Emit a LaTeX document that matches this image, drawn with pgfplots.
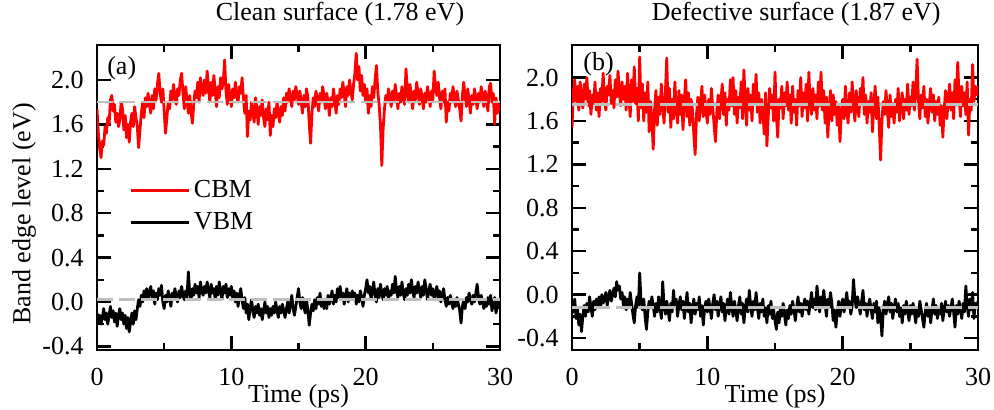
\documentclass[border=0pt]{standalone}
\usepackage{fontspec}
\setmainfont{Liberation Serif}
\usepackage{pgfplots}
\usepackage{pgfplotstable}
\pgfplotsset{compat=1.18}

\newcommand\chartfont{\fontsize{13}{15.6}\selectfont}

% band edges vs time, clean surface: t (ps), CBM, VBM (eV)
\pgfplotstableread[row sep=\\]{
t cbm vbm\\
0.0 1.74 -0.10\\ 0.1 1.52 -0.18\\ 0.2 1.38 -0.12\\ 0.3 1.30 -0.20\\ 0.4 1.45 -0.14\\ 0.5 1.41 -0.06\\ 0.6 1.58 -0.16\\ 0.7 1.52 -0.10\\ 0.8 1.66 -0.20\\ 0.9 1.60 -0.12\\
1.0 1.82 -0.04\\ 1.1 1.86 -0.14\\ 1.2 1.72 -0.08\\ 1.3 1.78 -0.18\\ 1.4 1.62 -0.10\\ 1.5 1.70 -0.22\\ 1.6 1.58 -0.12\\ 1.7 1.64 -0.06\\ 1.8 1.80 -0.16\\ 1.9 1.74 -0.10\\
2.0 1.55 -0.20\\ 2.1 1.68 -0.12\\ 2.2 1.48 -0.24\\ 2.3 1.60 -0.14\\ 2.4 1.44 -0.27\\ 2.5 1.62 -0.18\\ 2.6 1.70 -0.10\\ 2.7 1.58 -0.20\\ 2.8 1.76 -0.08\\ 2.9 1.66 -0.16\\
3.0 1.58 -0.06\\ 3.1 1.39 0.02\\ 3.2 1.55 -0.04\\ 3.3 1.70 0.06\\ 3.4 1.80 0.00\\ 3.5 1.66 0.10\\ 3.6 1.84 0.04\\ 3.7 1.76 0.12\\ 3.8 1.88 0.02\\ 3.9 1.78 0.08\\
4.0 1.70 0.14\\ 4.1 1.86 0.04\\ 4.2 1.74 0.10\\ 4.3 1.92 -0.02\\ 4.4 1.82 0.08\\ 4.5 1.96 0.02\\ 4.6 2.06 0.12\\ 4.7 1.88 0.06\\ 4.8 1.80 0.15\\ 4.9 1.92 0.00\\
5.0 1.72 -0.06\\ 5.1 1.52 0.06\\ 5.2 1.66 0.00\\ 5.3 1.80 0.10\\ 5.4 1.74 0.04\\ 5.5 1.90 -0.04\\ 5.6 1.82 0.08\\ 5.7 1.96 0.02\\ 5.8 1.84 0.12\\ 5.9 1.78 0.04\\
6.0 1.92 0.00\\ 6.1 1.86 0.10\\ 6.2 2.00 0.04\\ 6.3 2.06 0.14\\ 6.4 1.88 0.06\\ 6.5 1.74 0.02\\ 6.6 1.94 0.10\\ 6.7 1.82 0.04\\ 6.8 1.70 0.27\\ 6.9 1.86 0.08\\
7.0 1.72 0.02\\ 7.1 1.61 0.12\\ 7.2 1.78 0.06\\ 7.3 1.90 0.16\\ 7.4 1.84 0.08\\ 7.5 1.98 0.14\\ 7.6 1.80 0.04\\ 7.7 2.02 0.18\\ 7.8 1.92 0.10\\ 7.9 1.86 0.06\\
8.0 2.00 0.14\\ 8.1 1.88 0.08\\ 8.2 2.08 0.18\\ 8.3 1.94 0.10\\ 8.4 1.80 0.04\\ 8.5 1.98 0.16\\ 8.6 1.86 0.08\\ 8.7 2.04 0.12\\ 8.8 1.90 0.02\\ 8.9 1.76 0.14\\
9.0 1.94 0.06\\ 9.1 1.84 0.18\\ 9.2 2.02 0.10\\ 9.3 1.92 0.02\\ 9.4 1.98 0.14\\ 9.5 2.18 0.08\\ 9.6 1.90 0.16\\ 9.7 1.78 0.04\\ 9.8 1.96 0.12\\ 9.9 1.84 0.06\\
10.0 1.76 0.14\\ 10.1 1.92 0.04\\ 10.2 1.84 0.10\\ 10.3 1.98 0.00\\ 10.4 1.86 0.08\\ 10.5 1.80 -0.04\\ 10.6 1.94 0.06\\ 10.7 1.88 0.12\\ 10.8 2.02 0.02\\ 10.9 1.84 -0.06\\
11.0 1.70 0.04\\ 11.1 1.86 -0.10\\ 11.2 1.49 -0.02\\ 11.3 1.72 -0.16\\ 11.4 1.64 -0.06\\ 11.5 1.80 0.02\\ 11.6 1.70 -0.08\\ 11.7 1.62 -0.14\\ 11.8 1.84 -0.04\\ 11.9 1.74 -0.10\\
12.0 1.60 -0.02\\ 12.1 1.76 -0.12\\ 12.2 1.68 -0.06\\ 12.3 1.82 -0.16\\ 12.4 1.66 -0.08\\ 12.5 1.58 0.00\\ 12.6 1.74 -0.10\\ 12.7 1.64 -0.04\\ 12.8 1.80 -0.14\\ 12.9 1.50 -0.06\\
13.0 1.68 -0.12\\ 13.1 1.58 -0.04\\ 13.2 1.74 -0.10\\ 13.3 1.66 0.00\\ 13.4 1.80 -0.08\\ 13.5 1.70 -0.14\\ 13.6 1.62 -0.04\\ 13.7 1.76 -0.10\\ 13.8 1.68 -0.02\\ 13.9 1.84 -0.08\\
14.0 1.72 -0.14\\ 14.1 1.88 -0.06\\ 14.2 1.80 0.00\\ 14.3 1.92 -0.10\\ 14.4 1.84 -0.02\\ 14.5 1.76 0.06\\ 14.6 1.90 -0.06\\ 14.7 1.82 -0.12\\ 14.8 1.94 -0.04\\ 14.9 1.86 0.04\\
15.0 1.78 0.12\\ 15.1 1.90 0.00\\ 15.2 1.80 -0.06\\ 15.3 1.70 0.04\\ 15.4 1.86 -0.04\\ 15.5 1.76 -0.10\\ 15.6 1.92 0.02\\ 15.7 1.84 -0.08\\ 15.8 1.60 -0.21\\ 15.9 1.43 -0.10\\
16.0 1.70 -0.02\\ 16.1 1.84 -0.08\\ 16.2 1.76 0.02\\ 16.3 1.90 -0.06\\ 16.4 1.82 0.04\\ 16.5 1.72 -0.02\\ 16.6 1.88 0.08\\ 16.7 1.80 -0.04\\ 16.8 1.94 0.02\\ 16.9 1.86 -0.06\\
17.0 1.74 0.00\\ 17.1 1.88 -0.06\\ 17.2 1.80 0.06\\ 17.3 1.68 -0.02\\ 17.4 1.84 0.04\\ 17.5 1.76 0.10\\ 17.6 1.92 -0.02\\ 17.7 1.82 0.06\\ 17.8 1.70 0.00\\ 17.9 1.86 0.12\\
18.0 1.78 0.04\\ 18.1 1.92 0.14\\ 18.2 1.84 0.02\\ 18.3 1.98 0.08\\ 18.4 1.88 -0.02\\ 18.5 1.76 0.06\\ 18.6 1.94 0.12\\ 18.7 1.86 0.00\\ 18.8 2.00 0.08\\ 18.9 1.90 0.02\\
19.0 1.82 0.10\\ 19.1 1.96 0.02\\ 19.2 2.06 0.08\\ 19.3 2.24 -0.02\\ 19.4 2.00 0.06\\ 19.5 2.12 0.00\\ 19.6 1.90 0.10\\ 19.7 2.04 0.04\\ 19.8 1.86 -0.04\\ 19.9 1.96 0.06\\
20.0 1.80 0.12\\ 20.1 1.92 0.20\\ 20.2 1.70 0.08\\ 20.3 1.86 0.14\\ 20.4 1.76 0.02\\ 20.5 1.94 0.10\\ 20.6 1.84 0.18\\ 20.7 2.00 0.06\\ 20.8 2.13 0.00\\ 20.9 1.90 0.12\\
21.0 1.78 0.04\\ 21.1 1.60 0.16\\ 21.2 1.23 0.08\\ 21.3 1.56 0.02\\ 21.4 1.74 0.12\\ 21.5 1.86 0.06\\ 21.6 1.80 0.14\\ 21.7 1.92 0.02\\ 21.8 1.84 0.10\\ 21.9 1.76 0.06\\
22.0 1.90 0.16\\ 22.1 1.82 0.08\\ 22.2 1.96 0.23\\ 22.3 1.86 0.10\\ 22.4 1.74 0.04\\ 22.5 1.88 0.14\\ 22.6 1.80 0.06\\ 22.7 1.94 0.18\\ 22.8 1.84 0.08\\ 22.9 1.78 0.02\\
23.0 2.10 0.12\\ 23.1 1.92 0.06\\ 23.2 1.80 0.16\\ 23.3 1.96 0.08\\ 23.4 1.86 0.20\\ 23.5 1.74 0.10\\ 23.6 1.90 0.04\\ 23.7 1.82 0.14\\ 23.8 1.98 0.08\\ 23.9 1.88 0.18\\
24.0 1.78 0.10\\ 24.1 1.92 0.04\\ 24.2 1.84 0.14\\ 24.3 1.74 0.06\\ 24.4 1.88 0.20\\ 24.5 1.80 0.12\\ 24.6 1.94 0.02\\ 24.7 1.86 0.10\\ 24.8 1.76 0.16\\ 24.9 1.90 0.06\\
25.0 1.82 0.12\\ 25.1 2.08 0.02\\ 25.2 1.94 0.08\\ 25.3 1.86 0.14\\ 25.4 1.98 0.04\\ 25.5 1.84 0.10\\ 25.6 1.74 0.00\\ 25.7 1.90 0.06\\ 25.8 1.80 0.12\\ 25.9 1.92 0.02\\
26.0 1.62 -0.04\\ 26.1 1.80 0.04\\ 26.2 1.72 -0.02\\ 26.3 1.88 0.06\\ 26.4 1.80 0.00\\ 26.5 1.94 -0.06\\ 26.6 1.84 0.02\\ 26.7 1.76 -0.04\\ 26.8 1.90 0.04\\ 26.9 1.82 -0.02\\
27.0 1.74 -0.08\\ 27.1 1.63 -0.19\\ 27.2 1.86 -0.04\\ 27.3 1.98 0.02\\ 27.4 1.84 -0.06\\ 27.5 1.76 0.04\\ 27.6 1.92 0.00\\ 27.7 1.82 0.08\\ 27.8 1.70 0.02\\ 27.9 1.86 -0.02\\
28.0 1.78 0.06\\ 28.1 1.92 0.00\\ 28.2 1.84 0.08\\ 28.3 1.74 0.16\\ 28.4 1.88 0.04\\ 28.5 1.80 -0.02\\ 28.6 1.94 0.06\\ 28.7 1.84 0.00\\ 28.8 1.76 -0.06\\ 28.9 1.90 0.02\\
29.0 1.82 -0.04\\ 29.1 1.72 0.04\\ 29.2 1.94 -0.02\\ 29.3 1.97 0.06\\ 29.4 1.80 -0.08\\ 29.5 1.88 -0.02\\ 29.6 1.60 0.04\\ 29.7 1.84 -0.10\\ 29.8 1.70 -0.04\\ 29.9 1.78 0.00\\
30.0 1.72 -0.06\\
}\cleansurf

% defective surface
\pgfplotstableread[row sep=\\]{
t cbm vbm\\
0.0 1.54 -0.06\\ 0.1 1.86 -0.16\\ 0.2 1.98 -0.04\\ 0.3 1.78 -0.22\\ 0.4 1.92 -0.12\\ 0.5 1.70 -0.28\\ 0.6 1.96 -0.18\\ 0.7 1.82 -0.34\\ 0.8 1.72 -0.20\\ 0.9 1.94 -0.10\\
1.0 1.80 -0.20\\ 1.1 2.00 -0.08\\ 1.2 1.74 -0.16\\ 1.3 1.88 -0.02\\ 1.4 1.66 -0.12\\ 1.5 1.84 -0.20\\ 1.6 1.76 -0.06\\ 1.7 1.96 -0.14\\ 1.8 1.70 -0.04\\ 1.9 1.86 -0.10\\
2.0 1.64 -0.02\\ 2.1 1.90 -0.12\\ 2.2 1.78 0.00\\ 2.3 2.04 -0.08\\ 2.4 1.80 -0.04\\ 2.5 1.70 0.02\\ 2.6 1.92 -0.10\\ 2.7 1.84 -0.02\\ 2.8 2.02 0.04\\ 2.9 1.76 -0.06\\
3.0 1.88 0.00\\ 3.1 1.72 0.06\\ 3.2 1.98 -0.02\\ 3.3 1.82 0.12\\ 3.4 2.06 0.04\\ 3.5 1.86 0.08\\ 3.6 1.74 -0.04\\ 3.7 1.96 0.02\\ 3.8 1.80 -0.10\\ 3.9 1.92 -0.02\\
4.0 1.70 -0.14\\ 4.1 2.04 -0.04\\ 4.2 1.84 -0.12\\ 4.3 1.64 0.02\\ 4.4 1.98 -0.08\\ 4.5 1.78 -0.18\\ 4.6 2.10 -0.26\\ 4.7 1.76 -0.10\\ 4.8 1.90 -0.02\\ 4.9 1.60 -0.12\\
5.0 2.19 0.20\\ 5.1 1.72 -0.06\\ 5.2 1.94 -0.14\\ 5.3 1.60 -0.04\\ 5.4 1.86 -0.20\\ 5.5 1.68 -0.32\\ 5.6 1.96 -0.16\\ 5.7 1.50 -0.06\\ 5.8 1.78 -0.12\\ 5.9 1.62 -0.02\\
6.0 1.34 -0.10\\ 6.1 1.70 -0.20\\ 6.2 1.88 -0.08\\ 6.3 1.56 -0.16\\ 6.4 1.82 -0.02\\ 6.5 1.66 -0.12\\ 6.6 1.94 -0.22\\ 6.7 1.74 0.12\\ 6.8 1.58 -0.10\\ 6.9 1.86 -0.18\\
7.0 2.18 -0.06\\ 7.1 1.68 -0.14\\ 7.2 1.90 -0.24\\ 7.3 1.54 -0.08\\ 7.4 1.80 -0.16\\ 7.5 1.62 0.04\\ 7.6 1.96 -0.12\\ 7.7 1.72 -0.04\\ 7.8 1.58 -0.20\\ 7.9 1.88 -0.10\\
8.0 1.66 -0.02\\ 8.1 1.84 -0.14\\ 8.2 1.52 -0.06\\ 8.3 1.78 -0.22\\ 8.4 1.98 -0.10\\ 8.5 1.64 0.02\\ 8.6 1.86 -0.16\\ 8.7 1.56 -0.08\\ 8.8 1.80 -0.26\\ 8.9 1.70 -0.12\\
9.0 1.48 -0.04\\ 9.1 1.29 -0.18\\ 9.2 1.66 -0.08\\ 9.3 1.82 -0.14\\ 9.4 1.60 -0.02\\ 9.5 1.76 -0.20\\ 9.6 1.92 -0.10\\ 9.7 1.64 -0.28\\ 9.8 1.84 -0.12\\ 9.9 1.70 -0.06\\
10.0 1.58 -0.16\\ 10.1 1.80 -0.04\\ 10.2 1.66 -0.12\\ 10.3 1.90 -0.22\\ 10.4 1.72 -0.08\\ 10.5 1.56 0.00\\ 10.6 1.41 -0.14\\ 10.7 1.68 -0.06\\ 10.8 1.84 -0.20\\ 10.9 1.62 -0.10\\
11.0 1.78 -0.02\\ 11.1 1.94 -0.16\\ 11.2 1.66 -0.08\\ 11.3 1.86 -0.24\\ 11.4 1.56 -0.12\\ 11.5 1.80 -0.04\\ 11.6 1.70 -0.18\\ 11.7 1.98 0.02\\ 11.8 1.74 -0.10\\ 11.9 2.00 -0.20\\
12.0 1.66 -0.06\\ 12.1 1.88 -0.14\\ 12.2 1.58 -0.24\\ 12.3 1.82 -0.10\\ 12.4 1.72 -0.02\\ 12.5 1.96 -0.18\\ 12.6 1.62 -0.08\\ 12.7 2.07 -0.26\\ 12.8 1.78 -0.12\\ 12.9 1.56 -0.04\\
13.0 1.90 -0.16\\ 13.1 1.70 0.04\\ 13.2 1.84 -0.10\\ 13.3 1.60 -0.20\\ 13.4 1.94 -0.06\\ 13.5 1.76 -0.14\\ 13.6 2.03 0.02\\ 13.7 1.68 -0.12\\ 13.8 1.86 -0.22\\ 13.9 1.58 -0.08\\
14.0 1.80 -0.16\\ 14.1 1.70 -0.04\\ 14.2 1.48 -0.20\\ 14.3 1.86 -0.12\\ 14.4 1.37 -0.26\\ 14.5 1.64 -0.10\\ 14.6 1.90 -0.18\\ 14.7 1.72 -0.06\\ 14.8 1.84 -0.22\\ 14.9 1.60 -0.14\\
15.0 2.05 -0.24\\ 15.1 1.66 -0.32\\ 15.2 1.45 -0.16\\ 15.3 1.80 -0.26\\ 15.4 1.72 -0.12\\ 15.5 1.92 -0.20\\ 15.6 1.62 -0.08\\ 15.7 1.86 -0.18\\ 15.8 1.74 -0.28\\ 15.9 1.96 -0.14\\
16.0 1.70 -0.22\\ 16.1 1.84 -0.10\\ 16.2 1.58 -0.18\\ 16.3 1.92 -0.06\\ 16.4 1.68 -0.14\\ 16.5 1.80 -0.24\\ 16.6 1.56 -0.12\\ 16.7 1.88 -0.02\\ 16.8 1.74 -0.16\\ 16.9 2.00 -0.08\\
17.0 1.64 -0.20\\ 17.1 1.86 -0.10\\ 17.2 1.72 -0.04\\ 17.3 1.94 -0.14\\ 17.4 1.60 -0.06\\ 17.5 2.05 -0.18\\ 17.6 1.76 -0.08\\ 17.7 1.66 0.02\\ 17.8 1.90 -0.12\\ 17.9 1.70 -0.04\\
18.0 1.84 -0.14\\ 18.1 1.62 0.08\\ 18.2 1.96 -0.06\\ 18.3 1.74 -0.16\\ 18.4 2.05 -0.02\\ 18.5 1.70 -0.10\\ 18.6 1.88 0.04\\ 18.7 1.58 -0.08\\ 18.8 1.82 -0.20\\ 18.9 1.45 -0.04\\
19.0 1.72 -0.12\\ 19.1 1.88 0.02\\ 19.2 1.60 -0.08\\ 19.3 1.84 -0.24\\ 19.4 1.66 -0.14\\ 19.5 1.78 -0.30\\ 19.6 1.56 -0.16\\ 19.7 1.74 -0.06\\ 19.8 1.41 -0.20\\ 19.9 1.66 -0.10\\
20.0 1.80 -0.04\\ 20.1 1.62 -0.16\\ 20.2 1.92 -0.08\\ 20.3 1.70 0.02\\ 20.4 1.58 -0.12\\ 20.5 1.86 -0.06\\ 20.6 1.68 -0.18\\ 20.7 1.96 -0.10\\ 20.8 1.74 0.14\\ 20.9 1.60 -0.04\\
21.0 1.88 -0.12\\ 21.1 1.72 -0.02\\ 21.2 1.64 -0.10\\ 21.3 1.90 -0.18\\ 21.4 1.76 -0.06\\ 21.5 2.00 0.04\\ 21.6 1.66 -0.14\\ 21.7 1.84 -0.08\\ 21.8 1.58 -0.20\\ 21.9 1.78 -0.10\\
22.0 1.68 -0.04\\ 22.1 1.86 -0.14\\ 22.2 1.50 -0.22\\ 22.3 1.74 -0.08\\ 22.4 1.92 -0.16\\ 22.5 1.62 -0.06\\ 22.6 1.82 -0.26\\ 22.7 1.56 -0.12\\ 22.8 1.24 -0.20\\ 22.9 1.60 -0.38\\
23.0 1.78 -0.14\\ 23.1 1.66 -0.06\\ 23.2 1.88 -0.18\\ 23.3 1.70 -0.10\\ 23.4 1.54 -0.02\\ 23.5 1.84 -0.16\\ 23.6 1.64 -0.08\\ 23.7 1.76 -0.22\\ 23.8 1.58 -0.12\\ 23.9 1.80 -0.04\\
24.0 1.68 -0.16\\ 24.1 1.90 -0.08\\ 24.2 1.60 -0.20\\ 24.3 1.76 -0.12\\ 24.4 1.86 -0.26\\ 24.5 1.62 -0.10\\ 24.6 1.80 -0.18\\ 24.7 1.70 -0.06\\ 24.8 1.94 -0.14\\ 24.9 1.66 -0.24\\
25.0 1.82 -0.10\\ 25.1 1.74 -0.18\\ 25.2 1.96 -0.08\\ 25.3 1.70 -0.16\\ 25.4 1.88 -0.26\\ 25.5 2.17 -0.12\\ 25.6 1.78 -0.20\\ 25.7 1.62 -0.06\\ 25.8 1.84 -0.14\\ 25.9 1.72 -0.22\\
26.0 1.92 -0.30\\ 26.1 1.64 -0.16\\ 26.2 1.80 -0.08\\ 26.3 1.58 -0.20\\ 26.4 1.76 -0.12\\ 26.5 1.90 -0.26\\ 26.6 1.68 -0.14\\ 26.7 1.84 -0.04\\ 26.8 1.60 -0.18\\ 26.9 1.78 -0.10\\
27.0 1.66 -0.22\\ 27.1 1.82 -0.12\\ 27.2 1.56 -0.18\\ 27.3 1.74 -0.08\\ 27.4 1.45 -0.24\\ 27.5 1.70 -0.14\\ 27.6 1.88 -0.06\\ 27.7 1.62 -0.16\\ 27.8 1.80 -0.10\\ 27.9 1.94 -0.20\\
28.0 1.70 -0.12\\ 28.1 1.86 -0.04\\ 28.2 1.62 -0.16\\ 28.3 1.98 -0.30\\ 28.4 1.76 -0.10\\ 28.5 2.14 -0.18\\ 28.6 1.82 -0.06\\ 28.7 1.64 -0.14\\ 28.8 1.92 -0.22\\ 28.9 1.74 -0.08\\
29.0 1.86 -0.16\\ 29.1 1.66 0.08\\ 29.2 1.96 -0.10\\ 29.3 1.47 -0.20\\ 29.4 1.80 -0.04\\ 29.5 1.70 -0.14\\ 29.6 2.12 0.02\\ 29.7 1.78 -0.22\\ 29.8 1.92 -0.08\\ 29.9 1.84 -0.12\\
30.0 1.92 -0.06\\
}\defectsurf

\pgfplotsset{
  bandaxis/.style={
    scale only axis, height=152.5pt,
    xmin=0, xmax=30, xtick={0,10,20,30}, minor x tick num=1,
    ytick={-0.4,0,0.4,0.8,1.2,1.6,2.0}, minor y tick num=1,
    tick pos=both, tick align=inside,
    major tick length=7pt, minor tick length=3.5pt,
    every tick/.style={black, line width=1.2pt},
    axis line style={line width=1.2pt},
    tick label style={font=\chartfont},
    /pgf/number format/assume math mode=true,
    yticklabel style={/pgf/number format/.cd, fixed, fixed zerofill, precision=1, /tikz/.cd, xshift=-3.2pt},
    xticklabel style={yshift=-5.7pt},
    xlabel={Time (ps)},
    xlabel style={font=\chartfont, at={(axis description cs:0.5,0)}, anchor=north, inner sep=0pt, yshift=-17pt},
    title style={font=\chartfont, anchor=base, yshift=6.5pt},
    every axis plot/.append style={line width=1.4pt, line join=round},
  },
  meanline/.style={black!25, line width=1.3pt, dash pattern=on 8pt off 3pt, forget plot},
}

\begin{document}
\begin{tikzpicture}
\useasboundingbox (0,0) rectangle (497pt,204.5pt);

\begin{axis}[bandaxis, at={(48.5pt,29.5pt)}, anchor=south west, width=201.5pt,
    ymin=-0.433, ymax=2.315,
    title={Clean surface (1.78 eV)}, title style={at={(axis description cs:0.603,1)}},
    ylabel={Band edge level (eV)},
    ylabel style={font=\chartfont, at={(axis description cs:-0.181,0.446)}, anchor=center},
    legend style={draw=none, fill=none, font=\chartfont, at={(axis description cs:0.065,0.584)},
        anchor=north west, row sep=2pt, cells={anchor=west}},
    legend image code/.code={\draw[#1, line width=1.2pt] (0pt,0pt) -- (29pt,0pt);},
]
\addplot[red] table[x=t, y=cbm] {\cleansurf};
\addlegendentry{CBM}
\addplot[black] table[x=t, y=vbm] {\cleansurf};
\addlegendentry{VBM}
\addplot[meanline] coordinates {(0,1.80) (30,1.80)};
\addplot[meanline] coordinates {(0,0.02) (30,0.02)};
\node[anchor=west, inner sep=0pt, font=\chartfont] at (axis cs:0.74,2.11) {(a)};
\end{axis}

\begin{axis}[bandaxis, at={(286pt,29.5pt)}, anchor=south west, width=203pt,
    ymin=-0.51, ymax=2.30,
    title={Defective surface (1.87 eV)}, title style={at={(axis description cs:0.552,1)}},
]
\addplot[red] table[x=t, y=cbm] {\defectsurf};
\addplot[black] table[x=t, y=vbm] {\defectsurf};
\addplot[meanline] coordinates {(0,1.75) (30,1.75)};
\addplot[meanline] coordinates {(0,-0.12) (30,-0.12)};
\node[anchor=west, inner sep=0pt, font=\chartfont] at (axis cs:0.81,2.12) {(b)};
\end{axis}
\end{tikzpicture}
\end{document}
